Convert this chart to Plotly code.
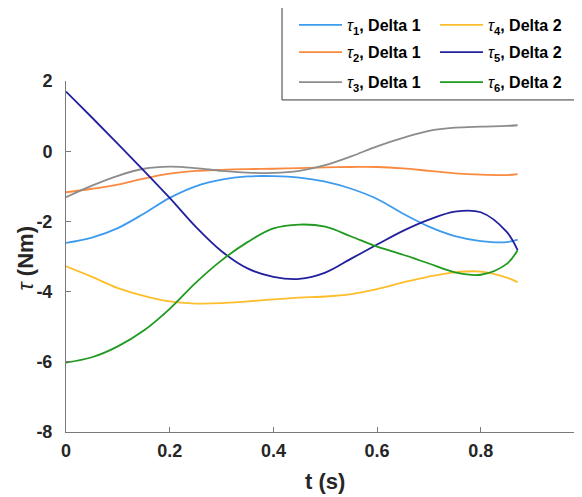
import plotly.graph_objects as go

# ---- data ----
t = [0, 0.05, 0.1, 0.15, 0.2, 0.25, 0.3, 0.35, 0.4, 0.45, 0.5, 0.55, 0.6,
     0.65, 0.7, 0.75, 0.8, 0.85, 0.871]

tau1 = [-2.61, -2.46, -2.19, -1.78, -1.33, -1.00, -0.81, -0.72, -0.71, -0.75,
        -0.87, -1.07, -1.36, -1.78, -2.15, -2.42, -2.56, -2.59, -2.52]
tau2 = [-1.17, -1.07, -0.95, -0.78, -0.64, -0.56, -0.53, -0.51, -0.50, -0.48,
        -0.46, -0.45, -0.45, -0.49, -0.56, -0.63, -0.67, -0.68, -0.65]
tau3 = [-1.31, -0.98, -0.70, -0.50, -0.44, -0.48, -0.56, -0.61, -0.62, -0.56,
        -0.40, -0.15, 0.14, 0.38, 0.58, 0.67, 0.70, 0.72, 0.74]
tau4 = [-3.28, -3.58, -3.90, -4.12, -4.28, -4.34, -4.33, -4.28, -4.22, -4.17,
        -4.14, -4.07, -3.93, -3.74, -3.57, -3.45, -3.43, -3.60, -3.73]
tau5 = [1.70, 0.96, 0.21, -0.55, -1.33, -2.15, -2.85, -3.34, -3.58, -3.64,
        -3.46, -3.06, -2.66, -2.27, -1.95, -1.72, -1.74, -2.30, -2.82]
tau6 = [-6.02, -5.87, -5.56, -5.11, -4.49, -3.75, -3.11, -2.59, -2.20, -2.09,
        -2.15, -2.43, -2.72, -2.95, -3.20, -3.45, -3.52, -3.21, -2.82]

series = [tau1, tau2, tau3, tau4, tau5, tau6]
names = ["<i>τ</i><b><sub>1</sub>, Delta 1</b>",
         "<i>τ</i><b><sub>2</sub>, Delta 1</b>",
         "<i>τ</i><b><sub>3</sub>, Delta 1</b>",
         "<i>τ</i><b><sub>4</sub>, Delta 2</b>",
         "<i>τ</i><b><sub>5</sub>, Delta 2</b>",
         "<i>τ</i><b><sub>6</sub>, Delta 2</b>"]
colors = ["#3D9BEF", "#F98A40", "#8C8C8C", "#FDBE2B", "#22209C", "#1F9A1F"]
legend_ids = ["legend", "legend2", "legend3", "legend", "legend2", "legend3"]

xticks = [0, 0.2, 0.4, 0.6, 0.8]
xticklabels = ["0", "0.2", "0.4", "0.6", "0.8"]
yticks = [-8, -6, -4, -2, 0, 2]
yticklabels = ["-8", "-6", "-4", "-2", "0", "2"]
xtitle = "<b>t (s)</b>"
ytitle = "<i>τ</i> <b>(Nm)</b>"

FONT = "Liberation Sans, Arial, Helvetica, sans-serif"
OFF = 8                     # default page (body) margin of the html page
WIN_W, WIN_H = 582, 497     # browser window
W, H = WIN_W - OFF, WIN_H - OFF
# plot area in window pixels: left 66, right 582 (edge), top 80, bottom 432
ML = 66 - OFF
MR = 0
MT = 80 - OFF
MB = H - (432 - OFF)
pw = W - ML - MR
ph = H - MT - MB
unit_px = 518.5  # pixels per 1 s on the x axis
xmax = pw / unit_px

fig = go.Figure()
for s, n, c, lg in zip(series, names, colors, legend_ids):
    fig.add_trace(go.Scatter(x=t, y=s, mode="lines", name=n, legend=lg,
                             line=dict(color=c, width=1.8, shape="spline", smoothing=1)))


def px2paper_x(p):
    return (p - OFF - ML) / pw


def px2paper_y(p):
    return (H - MB - (p - OFF)) / ph


leg_common = dict(orientation="h", xanchor="left", yanchor="middle",
                  bgcolor="rgba(0,0,0,0)", borderwidth=0,
                  font=dict(family=FONT, size=16, color="#000000"),
                  itemwidth=43, entrywidth=83, entrywidthmode="pixels",
                  tracegroupgap=0, itemclick=False)
leg_x = px2paper_x(294)
rows = [23.3, 52.3, 82.3]

fig.update_layout(
    width=W, height=H,
    margin=dict(l=ML, r=MR, t=MT, b=MB, pad=0),
    paper_bgcolor="white", plot_bgcolor="white",
    font=dict(family=FONT, color="#262626"),
    legend=dict(x=leg_x, y=px2paper_y(rows[0]), **leg_common),
    legend2=dict(x=leg_x, y=px2paper_y(rows[1]), **leg_common),
    legend3=dict(x=leg_x, y=px2paper_y(rows[2]), **leg_common),
    xaxis=dict(range=[0, xmax], tickvals=xticks, ticktext=xticklabels,
               showgrid=False, zeroline=False, showline=True, linecolor="#7a7a7a",
               linewidth=1, ticks="inside", ticklen=5, tickcolor="#7a7a7a",
               ticklabelstandoff=2,
               tickfont=dict(family=FONT, size=18, weight="bold", color="#262626"),
               automargin=False),
    yaxis=dict(range=[-8, 2], tickvals=yticks, ticktext=yticklabels,
               showgrid=False, zeroline=False, showline=True, linecolor="#7a7a7a",
               linewidth=1, ticks="inside", ticklen=5, tickcolor="#7a7a7a",
               ticklabelstandoff=9,
               tickfont=dict(family=FONT, size=18, weight="bold", color="#262626"),
               automargin=False),
    shapes=[dict(type="rect", xref="paper", yref="paper",
                 x0=px2paper_x(282), x1=px2paper_x(578),
                 y0=px2paper_y(99), y1=px2paper_y(5),
                 line=dict(color="#3a3a3a", width=1), fillcolor="white", layer="above")],
    annotations=[
        dict(text="<b>1</b>", xref="paper", yref="paper",
             x=px2paper_x(584), y=0, xanchor="center", yanchor="top",
             yshift=-8, showarrow=False,
             font=dict(family=FONT, size=18, color="#262626")),
        dict(text=xtitle, xref="paper", yref="paper",
             x=px2paper_x(324.5), y=px2paper_y(482), xanchor="center", yanchor="middle",
             showarrow=False,
             font=dict(family=FONT, size=22, color="#262626")),
        dict(text=ytitle, xref="paper", yref="paper",
             x=px2paper_x(25), y=px2paper_y(258), xanchor="center", yanchor="middle",
             textangle=-90, showarrow=False,
             font=dict(family=FONT, size=22, color="#262626")),
    ],
)

fig.write_html("out.html")
